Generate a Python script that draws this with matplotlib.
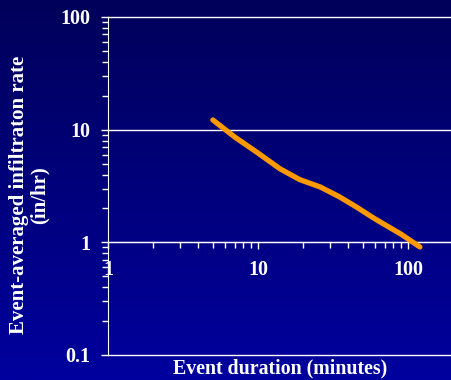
import numpy as np
import matplotlib.pyplot as plt
from matplotlib.colors import LinearSegmentedColormap
from matplotlib.ticker import LogLocator, FixedLocator, NullFormatter, FixedFormatter

# Dados
DURACAO = [5, 7, 10, 14, 19, 26, 35, 45, 60, 90, 120]
TAXA = [12.2, 8.6, 6.2, 4.5, 3.6, 3.1, 2.53, 2.07, 1.62, 1.18, 0.91]

Y_TICKS = [0.1, 1, 10, 100]
Y_LABELS = ['0.1', '1', '10', '100']
X_TICKS = [1, 10, 100]
X_LABELS = ['1', '10', '100']

plt.rcParams['font.family'] = ['Liberation Serif', 'DejaVu Serif']
plt.rcParams['font.weight'] = 'bold'

fig = plt.figure(figsize=(4.52, 3.8), dpi=100)

# fundo em degradê azul
bg = fig.add_axes([0, 0, 1, 1], zorder=0)
grad = np.linspace(0, 1, 256).reshape(-1, 1)
cmap = LinearSegmentedColormap.from_list('bg', ['#00005a', '#00009e'])
bg.imshow(grad, aspect='auto', cmap=cmap, extent=[0, 1, 0, 1], origin='upper')
bg.axis('off')

ax = fig.add_axes([108 / 452, 1 - 355 / 380, 1 - 108 / 452, 338 / 380], zorder=1)
ax.patch.set_alpha(0)
ax.set_xscale('log')
ax.set_yscale('log')
ax.set_xlim(1, 10 ** (344 / 150))
ax.set_ylim(0.1, 100)

for y in Y_TICKS:
    ax.axhline(y, color='white', lw=1.0, clip_on=False, zorder=1)

ax.plot(DURACAO, TAXA, color='#ff9900', lw=3.8, solid_capstyle='round',
        solid_joinstyle='round', zorder=3)

for s in ['top', 'right']:
    ax.spines[s].set_visible(False)
ax.spines['left'].set_color('white')
ax.spines['bottom'].set_color('white')
ax.spines['bottom'].set_position(('data', 1))

ax.yaxis.set_major_locator(FixedLocator(Y_TICKS))
ax.yaxis.set_major_formatter(FixedFormatter(Y_LABELS))
ax.yaxis.set_minor_locator(LogLocator(base=10, subs=np.arange(2, 10)))
ax.yaxis.set_minor_formatter(NullFormatter())
ax.xaxis.set_major_locator(FixedLocator(X_TICKS))
ax.xaxis.set_major_formatter(FixedFormatter(X_LABELS))
ax.xaxis.set_minor_locator(LogLocator(base=10, subs=np.arange(2, 10)))
ax.xaxis.set_minor_formatter(NullFormatter())

ax.tick_params(which='both', colors='white', direction='out', width=1)
ax.tick_params(which='major', length=5, labelsize=14.5)
ax.tick_params(which='minor', length=4)
ax.tick_params(axis='y', which='major', pad=8)
ax.tick_params(axis='x', which='major', pad=8)

fig.text(0.62, 1 - 368 / 380, 'Event duration (minutes)', color='white',
         fontsize=14.3, fontweight='bold', ha='center', va='center')
fig.text(29 / 452, 1 - 195 / 380, 'Event-averaged infiltraton rate\n(in/hr)',
         color='white', fontsize=15, fontweight='bold', ha='center',
         va='center', rotation=90, linespacing=1.05)

fig.savefig('out.png', dpi=100)
